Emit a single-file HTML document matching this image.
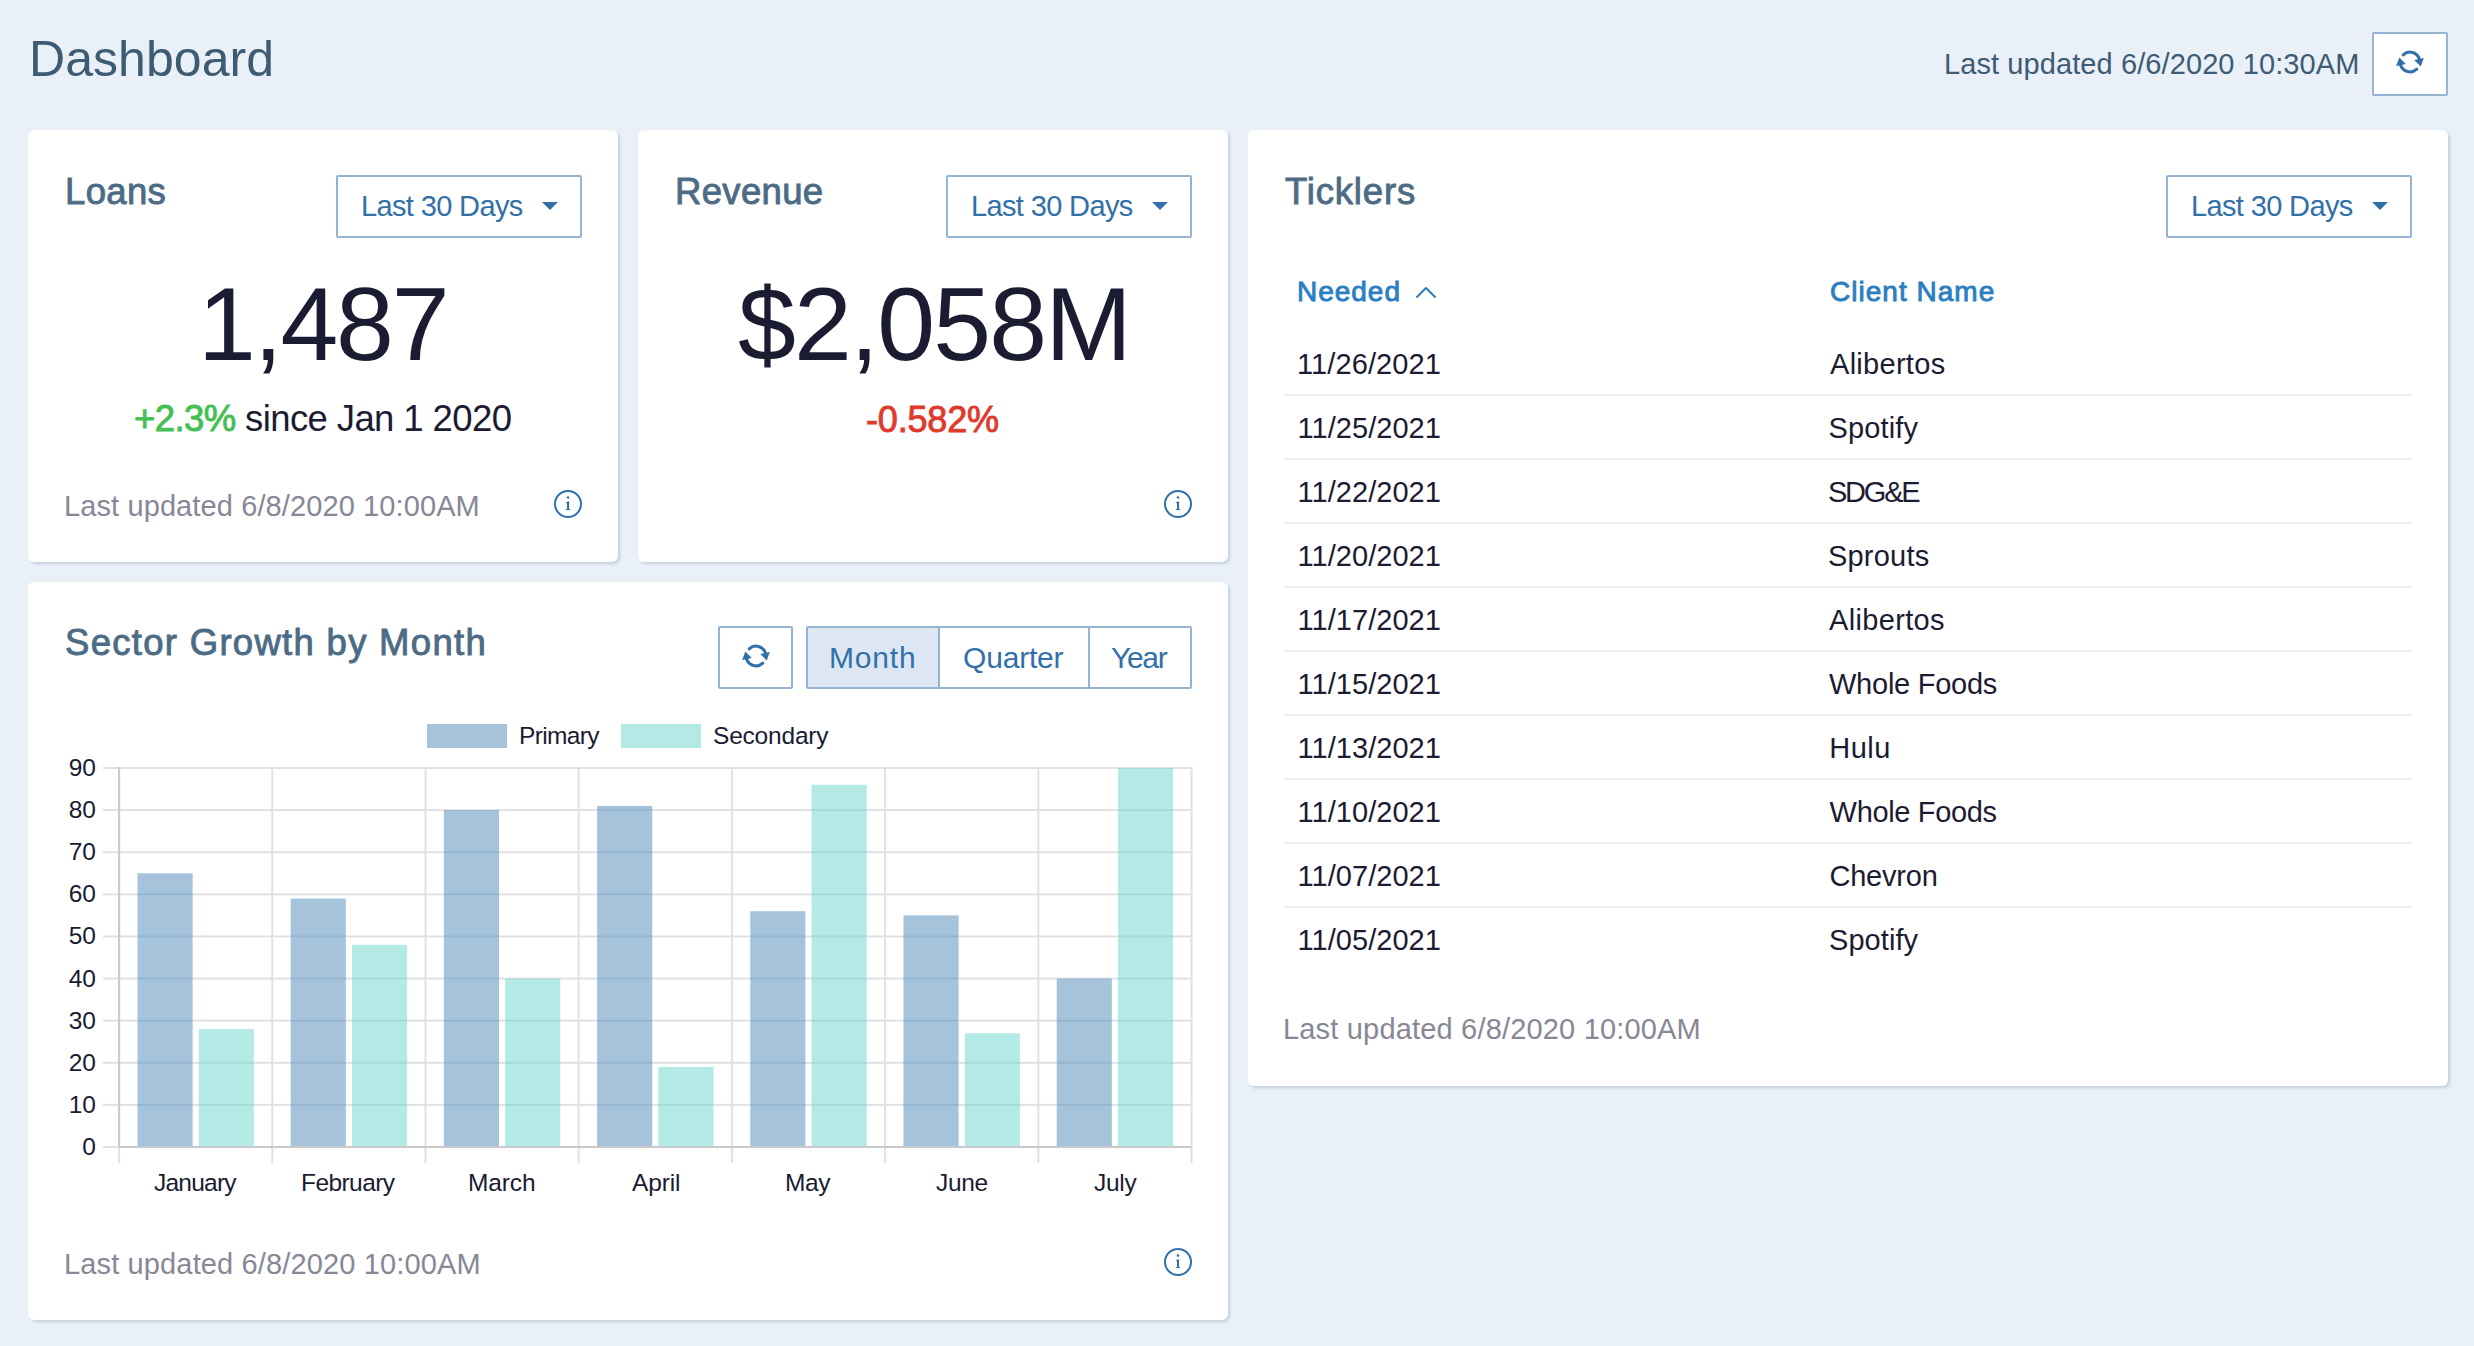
<!DOCTYPE html>
<html><head><meta charset="utf-8"><title>Dashboard</title>
<style>
html,body{margin:0;padding:0;}
body{width:2474px;height:1346px;background:#e9f0f8;position:relative;overflow:hidden;font-family:"Liberation Sans",sans-serif;}
.t{position:absolute;line-height:0;white-space:nowrap;}
</style></head><body>
<div style="position:absolute;left:28px;top:130px;width:590px;height:432px;box-sizing:border-box;background:#fff;border-radius:6px;box-shadow:2px 2px 3px rgba(40,60,90,0.18);"></div>
<div style="position:absolute;left:638px;top:130px;width:590px;height:432px;box-sizing:border-box;background:#fff;border-radius:6px;box-shadow:2px 2px 3px rgba(40,60,90,0.18);"></div>
<div style="position:absolute;left:1248px;top:130px;width:1200px;height:956px;box-sizing:border-box;background:#fff;border-radius:6px;box-shadow:2px 2px 3px rgba(40,60,90,0.18);"></div>
<div style="position:absolute;left:28px;top:582px;width:1200px;height:738px;box-sizing:border-box;background:#fff;border-radius:6px;box-shadow:2px 2px 3px rgba(40,60,90,0.18);"></div>
<div class="t" style="left:29.00px;top:58.66px;font-size:50px;color:#3e5b74;letter-spacing:0.050px;">Dashboard</div>
<div class="t" style="left:1944.00px;top:63.95px;font-size:29px;color:#3e5b74;letter-spacing:0.093px;">Last updated 6/6/2020 10:30AM</div>
<div style="position:absolute;left:2372px;top:32px;width:76px;height:64px;box-sizing:border-box;background:#fff;border:2px solid #95b4d3;border-radius:2px;"></div>
<svg style="position:absolute;left:2395.0px;top:46.5px" width="30.0" height="30.0" viewBox="-15 -15 30 30"><g><path d="M-6.75 -7.24 A9.9 9.9 0 0 1 9.42 -3.06" fill="none" stroke="#3170a9" stroke-width="3.1" stroke-linecap="round"/><path d="M4.2 -1.9 L13.9 -4.0 L10.7 4.5 Z" fill="#3170a9"/></g><g transform="rotate(180)"><path d="M-6.75 -7.24 A9.9 9.9 0 0 1 9.42 -3.06" fill="none" stroke="#3170a9" stroke-width="3.1" stroke-linecap="round"/><path d="M4.2 -1.9 L13.9 -4.0 L10.7 4.5 Z" fill="#3170a9"/></g></svg>
<div class="t" style="left:65.00px;top:191.65px;font-size:36.5px;color:#4c6b85;letter-spacing:0.350px;-webkit-text-stroke:0.9px #4c6b85;">Loans</div>
<div class="t" style="left:675.00px;top:192.05px;font-size:36.5px;color:#4c6b85;letter-spacing:0.333px;-webkit-text-stroke:0.9px #4c6b85;">Revenue</div>
<div class="t" style="left:1285.00px;top:191.55px;font-size:36.5px;color:#4c6b85;letter-spacing:0.829px;-webkit-text-stroke:0.9px #4c6b85;">Ticklers</div>
<div class="t" style="left:65.00px;top:643.15px;font-size:36.5px;color:#4c6b85;letter-spacing:1.295px;-webkit-text-stroke:0.9px #4c6b85;">Sector Growth by Month</div>
<div style="position:absolute;left:336px;top:175px;width:246px;height:63px;box-sizing:border-box;border:2px solid #95b4d3;border-radius:2px;"></div><div class="t" style="left:361.00px;top:205.95px;font-size:29px;color:#3170a9;letter-spacing:-0.636px;">Last 30 Days</div><svg style="position:absolute;left:542px;top:202px" width="16" height="9" viewBox="0 0 16 9"><path d="M0 0 L16 0 L8 8 Z" fill="#3170a9"/></svg>
<div style="position:absolute;left:946px;top:175px;width:246px;height:63px;box-sizing:border-box;border:2px solid #95b4d3;border-radius:2px;"></div><div class="t" style="left:971.00px;top:205.95px;font-size:29px;color:#3170a9;letter-spacing:-0.636px;">Last 30 Days</div><svg style="position:absolute;left:1152px;top:202px" width="16" height="9" viewBox="0 0 16 9"><path d="M0 0 L16 0 L8 8 Z" fill="#3170a9"/></svg>
<div style="position:absolute;left:2166px;top:175px;width:246px;height:63px;box-sizing:border-box;border:2px solid #95b4d3;border-radius:2px;"></div><div class="t" style="left:2191.00px;top:205.95px;font-size:29px;color:#3170a9;letter-spacing:-0.636px;">Last 30 Days</div><svg style="position:absolute;left:2372px;top:202px" width="16" height="9" viewBox="0 0 16 9"><path d="M0 0 L16 0 L8 8 Z" fill="#3170a9"/></svg>
<div class="t" style="left:198.00px;top:323.94px;font-size:104px;color:#1b1b32;letter-spacing:-2.175px;">1,487</div>
<div class="t" style="left:738.00px;top:324.34px;font-size:104px;color:#1b1b32;letter-spacing:-1.800px;">$2,058M</div>
<div class="t" style="left:134.00px;top:419.35px;font-size:36.5px;color:#1b1b32;letter-spacing:-0.605px;"><span style="-webkit-text-stroke:0.9px #44bf55;color:#44bf55">+2.3%</span> since Jan 1 2020</div>
<div class="t" style="left:866.00px;top:419.52px;font-size:36px;color:#e03a2d;letter-spacing:-0.183px;-webkit-text-stroke:0.9px #e03a2d;">-0.582%</div>
<div class="t" style="left:64.00px;top:505.95px;font-size:29px;color:#878896;letter-spacing:0.107px;">Last updated 6/8/2020 10:00AM</div>
<svg style="position:absolute;left:553px;top:489px" width="30" height="30" viewBox="0 0 30 30"><circle cx="15" cy="15" r="13" fill="none" stroke="#3170a9" stroke-width="2"/><circle cx="15.06" cy="8.5" r="1.25" fill="#3170a9"/><rect x="14.05" y="12.7" width="2.0" height="8.2" fill="#3170a9"/><path d="M13.1 13.3 L16.05 12.6 L16.05 14.3 L13.1 14.3 Z" fill="#3170a9"/><rect x="12.9" y="20.1" width="4.25" height="0.95" fill="#3170a9"/></svg>
<svg style="position:absolute;left:1163px;top:489px" width="30" height="30" viewBox="0 0 30 30"><circle cx="15" cy="15" r="13" fill="none" stroke="#3170a9" stroke-width="2"/><circle cx="15.06" cy="8.5" r="1.25" fill="#3170a9"/><rect x="14.05" y="12.7" width="2.0" height="8.2" fill="#3170a9"/><path d="M13.1 13.3 L16.05 12.6 L16.05 14.3 L13.1 14.3 Z" fill="#3170a9"/><rect x="12.9" y="20.1" width="4.25" height="0.95" fill="#3170a9"/></svg>
<div class="t" style="left:64.00px;top:1264.45px;font-size:29px;color:#878896;letter-spacing:0.139px;">Last updated 6/8/2020 10:00AM</div>
<svg style="position:absolute;left:1163px;top:1247px" width="30" height="30" viewBox="0 0 30 30"><circle cx="15" cy="15" r="13" fill="none" stroke="#3170a9" stroke-width="2"/><circle cx="15.06" cy="8.5" r="1.25" fill="#3170a9"/><rect x="14.05" y="12.7" width="2.0" height="8.2" fill="#3170a9"/><path d="M13.1 13.3 L16.05 12.6 L16.05 14.3 L13.1 14.3 Z" fill="#3170a9"/><rect x="12.9" y="20.1" width="4.25" height="0.95" fill="#3170a9"/></svg>
<div class="t" style="left:1283.00px;top:1029.45px;font-size:29px;color:#878896;letter-spacing:0.179px;">Last updated 6/8/2020 10:00AM</div>
<div style="position:absolute;left:718px;top:626px;width:75px;height:63px;box-sizing:border-box;border:2px solid #95b4d3;border-radius:2px;background:#fff;"></div>
<svg style="position:absolute;left:741.0px;top:641.0px" width="30.0" height="30.0" viewBox="-15 -15 30 30"><g><path d="M-6.75 -7.24 A9.9 9.9 0 0 1 9.42 -3.06" fill="none" stroke="#3170a9" stroke-width="3.1" stroke-linecap="round"/><path d="M4.2 -1.9 L13.9 -4.0 L10.7 4.5 Z" fill="#3170a9"/></g><g transform="rotate(180)"><path d="M-6.75 -7.24 A9.9 9.9 0 0 1 9.42 -3.06" fill="none" stroke="#3170a9" stroke-width="3.1" stroke-linecap="round"/><path d="M4.2 -1.9 L13.9 -4.0 L10.7 4.5 Z" fill="#3170a9"/></g></svg>
<div style="position:absolute;left:806px;top:626px;width:386px;height:63px;box-sizing:border-box;border:2px solid #95b4d3;border-radius:2px;background:#fff;"></div>
<div style="position:absolute;left:808px;top:628px;width:131px;height:59px;box-sizing:border-box;background:#dde7f3;"></div>
<div style="position:absolute;left:938px;top:628px;width:2px;height:59px;box-sizing:border-box;background:#95b4d3;"></div>
<div style="position:absolute;left:1088px;top:628px;width:2px;height:59px;box-sizing:border-box;background:#95b4d3;"></div>
<div class="t" style="left:829.00px;top:658.20px;font-size:30px;color:#3170a9;letter-spacing:0.800px;">Month</div>
<div class="t" style="left:963.00px;top:658.20px;font-size:30px;color:#3170a9;letter-spacing:-0.183px;">Quarter</div>
<div class="t" style="left:1111.00px;top:658.20px;font-size:30px;color:#3170a9;letter-spacing:-1.333px;">Year</div>
<svg style="position:absolute;left:0;top:0" width="2474" height="1346"><rect x="103" y="1146.00" width="1088.50" height="2" fill="#e1e1e5"/><rect x="103" y="1103.89" width="1088.50" height="2" fill="#e1e1e5"/><rect x="103" y="1061.78" width="1088.50" height="2" fill="#e1e1e5"/><rect x="103" y="1019.67" width="1088.50" height="2" fill="#e1e1e5"/><rect x="103" y="977.56" width="1088.50" height="2" fill="#e1e1e5"/><rect x="103" y="935.44" width="1088.50" height="2" fill="#e1e1e5"/><rect x="103" y="893.33" width="1088.50" height="2" fill="#e1e1e5"/><rect x="103" y="851.22" width="1088.50" height="2" fill="#e1e1e5"/><rect x="103" y="809.11" width="1088.50" height="2" fill="#e1e1e5"/><rect x="103" y="767.00" width="1088.50" height="2" fill="#e1e1e5"/><rect x="118.10" y="767.00" width="2" height="396.00" fill="#e1e1e5"/><rect x="271.30" y="767.00" width="2" height="396.00" fill="#e1e1e5"/><rect x="424.50" y="767.00" width="2" height="396.00" fill="#e1e1e5"/><rect x="577.70" y="767.00" width="2" height="396.00" fill="#e1e1e5"/><rect x="730.90" y="767.00" width="2" height="396.00" fill="#e1e1e5"/><rect x="884.10" y="767.00" width="2" height="396.00" fill="#e1e1e5"/><rect x="1037.30" y="767.00" width="2" height="396.00" fill="#e1e1e5"/><rect x="1190.50" y="767.00" width="2" height="396.00" fill="#e1e1e5"/><rect x="118.10" y="767.00" width="2" height="380.00" fill="#c9c9cc"/><rect x="137.48" y="873.28" width="55.15" height="273.72" fill="rgba(75,137,186,0.5)"/><rect x="198.76" y="1029.09" width="55.15" height="117.91" fill="rgba(103,214,204,0.5)"/><rect x="290.68" y="898.54" width="55.15" height="248.46" fill="rgba(75,137,186,0.5)"/><rect x="351.96" y="944.87" width="55.15" height="202.13" fill="rgba(103,214,204,0.5)"/><rect x="443.88" y="810.11" width="55.15" height="336.89" fill="rgba(75,137,186,0.5)"/><rect x="505.16" y="978.56" width="55.15" height="168.44" fill="rgba(103,214,204,0.5)"/><rect x="597.08" y="805.90" width="55.15" height="341.10" fill="rgba(75,137,186,0.5)"/><rect x="658.36" y="1066.99" width="55.15" height="80.01" fill="rgba(103,214,204,0.5)"/><rect x="750.28" y="911.18" width="55.15" height="235.82" fill="rgba(75,137,186,0.5)"/><rect x="811.56" y="784.84" width="55.15" height="362.16" fill="rgba(103,214,204,0.5)"/><rect x="903.48" y="915.39" width="55.15" height="231.61" fill="rgba(75,137,186,0.5)"/><rect x="964.76" y="1033.30" width="55.15" height="113.70" fill="rgba(103,214,204,0.5)"/><rect x="1056.68" y="978.56" width="55.15" height="168.44" fill="rgba(75,137,186,0.5)"/><rect x="1117.96" y="768.00" width="55.15" height="379.00" fill="rgba(103,214,204,0.5)"/><rect x="119.10" y="1146.00" width="1072.40" height="2" fill="#c9c9cc"/></svg>
<div class="t" style="right:2378px;top:1147.01px;font-size:24.5px;color:#1b1b32">0</div>
<div class="t" style="right:2378px;top:1104.89px;font-size:24.5px;color:#1b1b32">10</div>
<div class="t" style="right:2378px;top:1062.78px;font-size:24.5px;color:#1b1b32">20</div>
<div class="t" style="right:2378px;top:1020.67px;font-size:24.5px;color:#1b1b32">30</div>
<div class="t" style="right:2378px;top:978.56px;font-size:24.5px;color:#1b1b32">40</div>
<div class="t" style="right:2378px;top:936.45px;font-size:24.5px;color:#1b1b32">50</div>
<div class="t" style="right:2378px;top:894.34px;font-size:24.5px;color:#1b1b32">60</div>
<div class="t" style="right:2378px;top:852.23px;font-size:24.5px;color:#1b1b32">70</div>
<div class="t" style="right:2378px;top:810.12px;font-size:24.5px;color:#1b1b32">80</div>
<div class="t" style="right:2378px;top:768.01px;font-size:24.5px;color:#1b1b32">90</div>
<div class="t" style="left:154.00px;top:1182.51px;font-size:24.5px;color:#1b1b32;letter-spacing:-0.767px;">January</div>
<div class="t" style="left:301.00px;top:1182.51px;font-size:24.5px;color:#1b1b32;letter-spacing:-0.571px;">February</div>
<div class="t" style="left:468.00px;top:1182.51px;font-size:24.5px;color:#1b1b32;letter-spacing:-0.125px;">March</div>
<div class="t" style="left:632.00px;top:1182.51px;font-size:24.5px;color:#1b1b32;letter-spacing:-0.150px;">April</div>
<div class="t" style="left:785.00px;top:1182.51px;font-size:24.5px;color:#1b1b32;letter-spacing:-0.400px;">May</div>
<div class="t" style="left:936.00px;top:1182.51px;font-size:24.5px;color:#1b1b32;letter-spacing:-0.333px;">June</div>
<div class="t" style="left:1094.00px;top:1182.51px;font-size:24.5px;color:#1b1b32;letter-spacing:-0.300px;">July</div>
<div style="position:absolute;left:427px;top:724px;width:80px;height:24px;box-sizing:border-box;background:rgba(75,137,186,0.5);"></div>
<div class="t" style="left:519.00px;top:735.51px;font-size:24.5px;color:#1b1b32;letter-spacing:-0.667px;">Primary</div>
<div style="position:absolute;left:621px;top:724px;width:80px;height:24px;box-sizing:border-box;background:rgba(103,214,204,0.5);"></div>
<div class="t" style="left:713.00px;top:735.51px;font-size:24.5px;color:#1b1b32;letter-spacing:-0.200px;">Secondary</div>
<div class="t" style="left:1297.00px;top:292.09px;font-size:28px;color:#2b7ec2;letter-spacing:0.980px;-webkit-text-stroke:0.9px #2b7ec2;">Needed</div>
<svg style="position:absolute;left:1415px;top:285px" width="22" height="14" viewBox="0 0 22 14"><path d="M2 12 L11 3 L20 12" fill="none" stroke="#2b7ec2" stroke-width="2" stroke-linecap="round" stroke-linejoin="round"/></svg>
<div class="t" style="left:1830.00px;top:292.09px;font-size:28px;color:#2b7ec2;letter-spacing:1.020px;-webkit-text-stroke:0.9px #2b7ec2;">Client Name</div>
<div class="t" style="left:1297.00px;top:363.95px;font-size:29px;color:#1b1b32;letter-spacing:0.100px;">11/26/2021</div>
<div class="t" style="left:1830.00px;top:363.95px;font-size:29px;color:#1b1b32;letter-spacing:0.288px;">Alibertos</div>
<div style="position:absolute;left:1284px;top:394px;width:1128px;height:2px;box-sizing:border-box;background:#edf0f4;"></div>
<div class="t" style="left:1297.60px;top:427.95px;font-size:29px;color:#1b1b32;letter-spacing:0.033px;">11/25/2021</div>
<div class="t" style="left:1828.40px;top:427.95px;font-size:29px;color:#1b1b32;letter-spacing:0.167px;">Spotify</div>
<div style="position:absolute;left:1284px;top:458px;width:1128px;height:2px;box-sizing:border-box;background:#edf0f4;"></div>
<div class="t" style="left:1297.60px;top:491.95px;font-size:29px;color:#1b1b32;letter-spacing:0.033px;">11/22/2021</div>
<div class="t" style="left:1828.00px;top:491.95px;font-size:29px;color:#1b1b32;letter-spacing:-2.225px;">SDG&amp;E</div>
<div style="position:absolute;left:1284px;top:522px;width:1128px;height:2px;box-sizing:border-box;background:#edf0f4;"></div>
<div class="t" style="left:1297.60px;top:555.95px;font-size:29px;color:#1b1b32;letter-spacing:0.033px;">11/20/2021</div>
<div class="t" style="left:1828.00px;top:555.95px;font-size:29px;color:#1b1b32;letter-spacing:0.200px;">Sprouts</div>
<div style="position:absolute;left:1284px;top:586px;width:1128px;height:2px;box-sizing:border-box;background:#edf0f4;"></div>
<div class="t" style="left:1297.60px;top:619.95px;font-size:29px;color:#1b1b32;letter-spacing:0.033px;">11/17/2021</div>
<div class="t" style="left:1829.00px;top:619.95px;font-size:29px;color:#1b1b32;letter-spacing:0.338px;">Alibertos</div>
<div style="position:absolute;left:1284px;top:650px;width:1128px;height:2px;box-sizing:border-box;background:#edf0f4;"></div>
<div class="t" style="left:1297.60px;top:683.95px;font-size:29px;color:#1b1b32;letter-spacing:0.033px;">11/15/2021</div>
<div class="t" style="left:1829.00px;top:683.95px;font-size:29px;color:#1b1b32;letter-spacing:-0.250px;">Whole Foods</div>
<div style="position:absolute;left:1284px;top:714px;width:1128px;height:2px;box-sizing:border-box;background:#edf0f4;"></div>
<div class="t" style="left:1297.60px;top:747.95px;font-size:29px;color:#1b1b32;letter-spacing:0.033px;">11/13/2021</div>
<div class="t" style="left:1829.20px;top:747.95px;font-size:29px;color:#1b1b32;letter-spacing:0.500px;">Hulu</div>
<div style="position:absolute;left:1284px;top:778px;width:1128px;height:2px;box-sizing:border-box;background:#edf0f4;"></div>
<div class="t" style="left:1297.60px;top:811.95px;font-size:29px;color:#1b1b32;letter-spacing:0.033px;">11/10/2021</div>
<div class="t" style="left:1829.60px;top:811.95px;font-size:29px;color:#1b1b32;letter-spacing:-0.340px;">Whole Foods</div>
<div style="position:absolute;left:1284px;top:842px;width:1128px;height:2px;box-sizing:border-box;background:#edf0f4;"></div>
<div class="t" style="left:1297.60px;top:875.95px;font-size:29px;color:#1b1b32;letter-spacing:0.033px;">11/07/2021</div>
<div class="t" style="left:1829.40px;top:875.95px;font-size:29px;color:#1b1b32;letter-spacing:-0.183px;">Chevron</div>
<div style="position:absolute;left:1284px;top:906px;width:1128px;height:2px;box-sizing:border-box;background:#edf0f4;"></div>
<div class="t" style="left:1297.60px;top:939.95px;font-size:29px;color:#1b1b32;letter-spacing:0.033px;">11/05/2021</div>
<div class="t" style="left:1829.00px;top:939.95px;font-size:29px;color:#1b1b32;letter-spacing:0.067px;">Spotify</div>
</body></html>
